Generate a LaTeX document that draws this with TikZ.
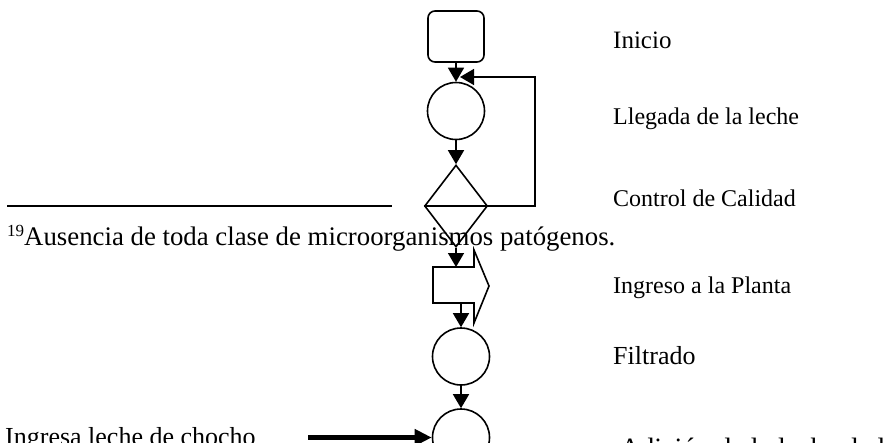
\documentclass[tikz,border=0pt]{standalone}
\usepackage{fontspec}
\setmainfont{Liberation Serif}
\usetikzlibrary{arrows.meta,shapes.geometric}

\begin{document}
\begin{tikzpicture}[x=1pt,y=-1pt,
  flow/.style={line width=1.6pt},
  arr/.style={flow,-{Triangle[width=16pt,length=14pt]}},
  stepcircle/.style={circle,draw,line width=1.6pt,minimum size=57pt,inner sep=0pt},
  lbl/.style={anchor=base west,inner sep=0pt,font=\fontsize{24}{28}\selectfont},
  biglbl/.style={anchor=base west,inner sep=0pt,font=\fontsize{26}{30}\selectfont},
]
\useasboundingbox (0,0) rectangle (890,442);

% process column
\node[draw,line width=1.6pt,rounded corners=7pt,minimum width=56pt,minimum height=51pt,inner sep=0pt] (start) at (456,36.5) {};
\node[stepcircle] (c1) at (456,111) {};
\node[draw,diamond,line width=1.6pt,minimum width=63pt,minimum height=82pt,inner sep=0pt] (dia) at (456,206) {};
\draw[flow,line join=miter] (433,267) -- (474,267) -- (474,250) -- (489,286) -- (474,323) -- (474,303) -- (433,303) -- cycle;
\coordinate (ingin) at (456,267);
\coordinate (ingout) at (461,303);
\node[stepcircle] (c2) at (461,356.5) {};
\node[stepcircle] (c3) at (461,437.5) {};

% connectors
\draw[arr] (start.south) -- (c1.north);
\draw[arr] (c1.south) -- (dia.north);
\draw[flow] (dia.west) -- (dia.east);
\coordinate (loopd) at (535,206);
\coordinate (loopu) at (535,77);
\coordinate (merge) at (460,77);
\draw[arr] (dia.east) -- (loopd) -- (loopu) -- (merge);
\draw[arr] (dia.south) -- (ingin);
\draw[arr] (ingout) -- (c2.north);
\draw[arr] (c2.south) -- (c3.north);
\coordinate (chocho) at (308,437.5);
\draw[line width=4.5pt,-{Triangle[width=16pt,length=17pt]}] (chocho) -- (c3.west);

% footnote
\coordinate (rulel) at (7,206);
\coordinate (ruler) at (392,206);
\draw[line width=1.3pt] (rulel) -- (ruler);
\node[anchor=base west,inner sep=0pt,font=\fontsize{26.8}{30}\selectfont] (fn) at (7,245)
  {\raisebox{9pt}{\fontsize{17}{18}\selectfont 19}Ausencia de toda clase de microorganismos patógenos.};

% labels
\node[lbl,font=\fontsize{25}{28}\selectfont] (tinicio) at (613,48) {Inicio};
\node[lbl] (tllegada) at (613,124) {Llegada de la leche};
\node[lbl] (tcontrol) at (613,206) {Control de Calidad};
\node[lbl] (tingreso) at (613,293) {Ingreso a la Planta};
\node[lbl,font=\fontsize{26}{28}\selectfont] (tfiltrado) at (613,364) {Filtrado};
\node[biglbl] (tchocho) at (5,445) {Ingresa leche de chocho};
\node[lbl,font=\fontsize{28}{30}\selectfont] (tadicion) at (620,457) {Adición de la leche de la};
\end{tikzpicture}
\end{document}
